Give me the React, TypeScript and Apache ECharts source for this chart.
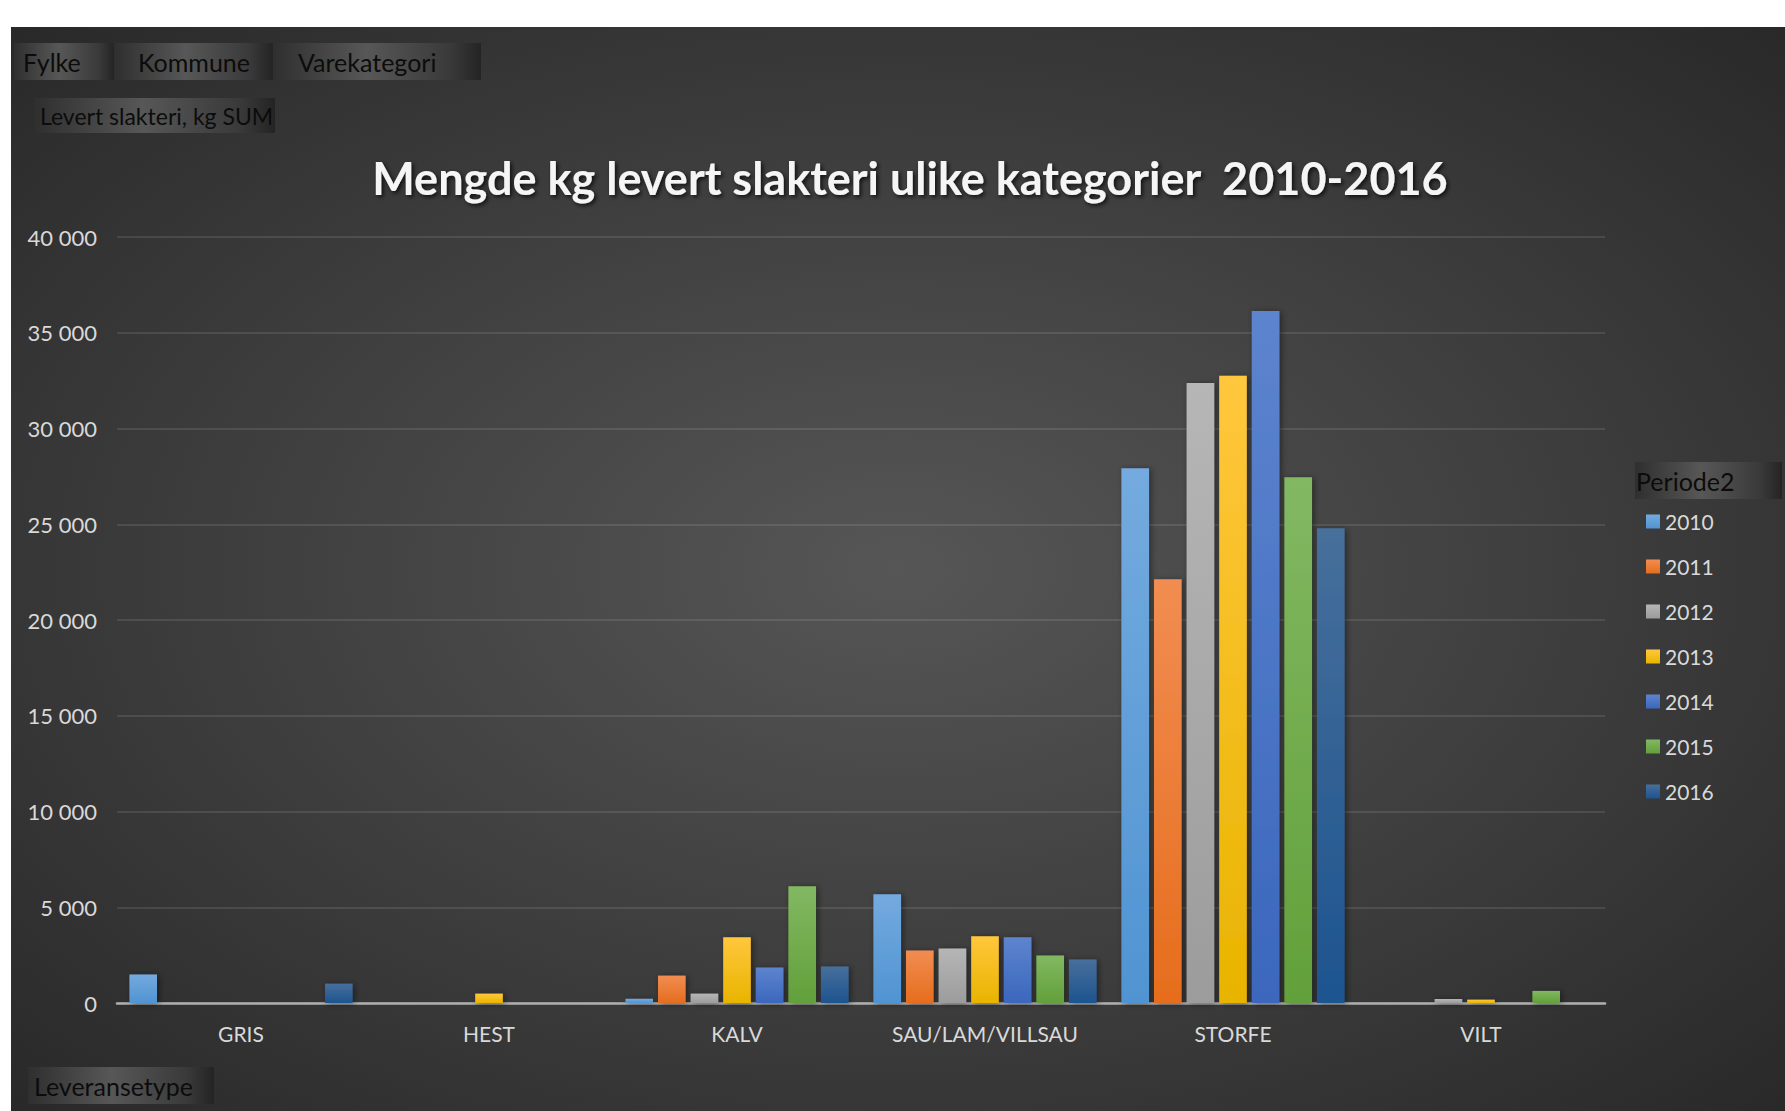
import React, { useEffect, useRef } from 'react';
import * as echarts from 'echarts';

const categories = ['GRIS', 'HEST', 'KALV', 'SAU/LAM/VILLSAU', 'STORFE', 'VILT'];
const years = ['2010', '2011', '2012', '2013', '2014', '2015', '2016'];
const v2010 = [1490, null, 220, 5680, 27930, null];
const v2011 = [null, null, 1430, 2740, 22130, null];
const v2012 = [null, null, 490, 2850, 32370, 210];
const v2013 = [null, 490, 3430, 3480, 32750, 175];
const v2014 = [null, null, 1850, 3430, 36130, null];
const v2015 = [null, null, 6100, 2480, 27460, 630];
const v2016 = [1010, null, 1900, 2270, 24790, null];
const seriesValues = [v2010, v2011, v2012, v2013, v2014, v2015, v2016];
const baseColors = ['#5B9BD5', '#ED7D31', '#A5A5A5', '#FFC000', '#4472C4', '#70AD47', '#255E91'];
const topColors = ['#74aadf', '#f18d52', '#b6b6b6', '#ffc73c', '#5d84ce', '#82b862', '#476f9b'];
const bottomColors = ['#5094d2', '#e66d1c', '#9c9c9c', '#e9b400', '#3b67bd', '#62a03a', '#1d548f'];

const titleText = 'Mengde kg levert slakteri ulike kategorier  2010-2016';
const buttons = [
  { label: 'Fylke', x: 3, y: 16, w: 100, h: 37, tx: 12, fs: 25 },
  { label: 'Kommune', x: 103, y: 16, w: 159, h: 37, tx: 127, fs: 25 },
  { label: 'Varekategori', x: 262, y: 16, w: 208, h: 37, tx: 287, fs: 25 },
  { label: 'Levert slakteri, kg SUM', x: 23, y: 71, w: 241, h: 35, tx: 29, fs: 23 },
  { label: 'Leveransetype', x: 17, y: 1040, w: 186, h: 37, tx: 23, fs: 25 },
  { label: 'Periode2', x: 1624, y: 435, w: 147, h: 37, tx: 1625, fs: 25 },
];

const FONT = 'Lato, "Open Sans", sans-serif';

function fmt(v: number) {
  return String(v).replace(/\B(?=(\d{3})+(?!\d))/g, ' ');
}

export default function App() {
  const ref = useRef<HTMLDivElement>(null);
  useEffect(() => {
    if (!ref.current) return;
    const chart = echarts.init(ref.current, undefined, { renderer: 'svg' });
    const btnGraphics: any[] = [];
    buttons.forEach((b) => {
      btnGraphics.push({
        type: 'rect',
        shape: { x: b.x, y: b.y, width: b.w, height: b.h },
        style: {
          fill: new echarts.graphic.LinearGradient(0, 0, 1, 0, [
            { offset: 0, color: '#2f2f2f' },
            { offset: 0.45, color: '#575757' },
            { offset: 0.85, color: '#3a3a3a' },
            { offset: 1, color: '#242424' },
          ]),
        },
        z: 0,
      });
      btnGraphics.push({
        type: 'text',
        x: b.tx,
        y: b.y + b.h / 2,
        style: {
          text: b.label,
          fill: '#0c0c0c',
          font: `${b.fs}px ${FONT}`,
          verticalAlign: 'middle',
          align: 'left',
        },
        z: 1,
      });
    });
    chart.setOption({
      animation: false,
      backgroundColor: {
        type: 'radial',
        x: 0.5,
        y: 0.5,
        r: 0.75,
        colorStops: [
          { offset: 0, color: '#565656' },
          { offset: 1, color: '#262626' },
        ],
      },
      title: {
        text: titleText,
        left: 894,
        textAlign: 'center',
        top: 123,
        textStyle: {
          color: '#f5f5f5',
          fontFamily: FONT,
          fontWeight: 'bold',
          fontSize: 45,
          textShadowColor: 'rgba(0,0,0,0.75)',
          textShadowBlur: 4,
          textShadowOffsetX: 2,
          textShadowOffsetY: 2,
        },
      },
      legend: {
        orient: 'vertical',
        left: 1630,
        top: 479,
        itemWidth: 14,
        itemHeight: 14,
        itemGap: 24,
        icon: 'rect',
        data: years,
        textStyle: { color: '#d9d9d9', fontSize: 21, fontFamily: FONT, lineHeight: 20 },
      },
      grid: { left: 106, right: 180, top: 210, bottom: 108, containLabel: false },
      xAxis: {
        type: 'category',
        data: categories,
        axisLine: { lineStyle: { color: '#b0b0b0', width: 2.5 } },
        axisTick: { show: false },
        axisLabel: { color: '#d9d9d9', fontSize: 21, fontFamily: FONT, margin: 20 },
      },
      yAxis: {
        type: 'value',
        min: 0,
        max: 40000,
        interval: 5000,
        axisLine: { show: false },
        axisTick: { show: false },
        splitLine: { lineStyle: { color: 'rgba(255,255,255,0.1)', width: 2 } },
        axisLabel: {
          color: '#d9d9d9',
          fontSize: 22,
          fontFamily: FONT,
          margin: 20,
          formatter: (v: number) => fmt(v),
        },
      },
      series: years.map((y, i) => ({
        name: y,
        type: 'bar',
        data: seriesValues[i],
        barGap: '18%',
        barCategoryGap: '10%',
        color: baseColors[i],
        itemStyle: {
          color: new echarts.graphic.LinearGradient(0, 0, 0, 1, [
            { offset: 0, color: topColors[i] },
            { offset: 1, color: bottomColors[i] },
          ]),
          shadowColor: 'rgba(0,0,0,0.45)',
          shadowBlur: 6,
          shadowOffsetX: 2,
          shadowOffsetY: 1,
        },
      })),
      graphic: btnGraphics,
    });
    return () => chart.dispose();
  }, []);
  return (
    <div style={{ position: 'fixed', left: 0, top: 0, width: 1785, height: 1111, background: '#ffffff' }}>
      <div ref={ref} style={{ position: 'absolute', left: 11, top: 27, width: 1774, height: 1084 }} />
    </div>
  );
}
